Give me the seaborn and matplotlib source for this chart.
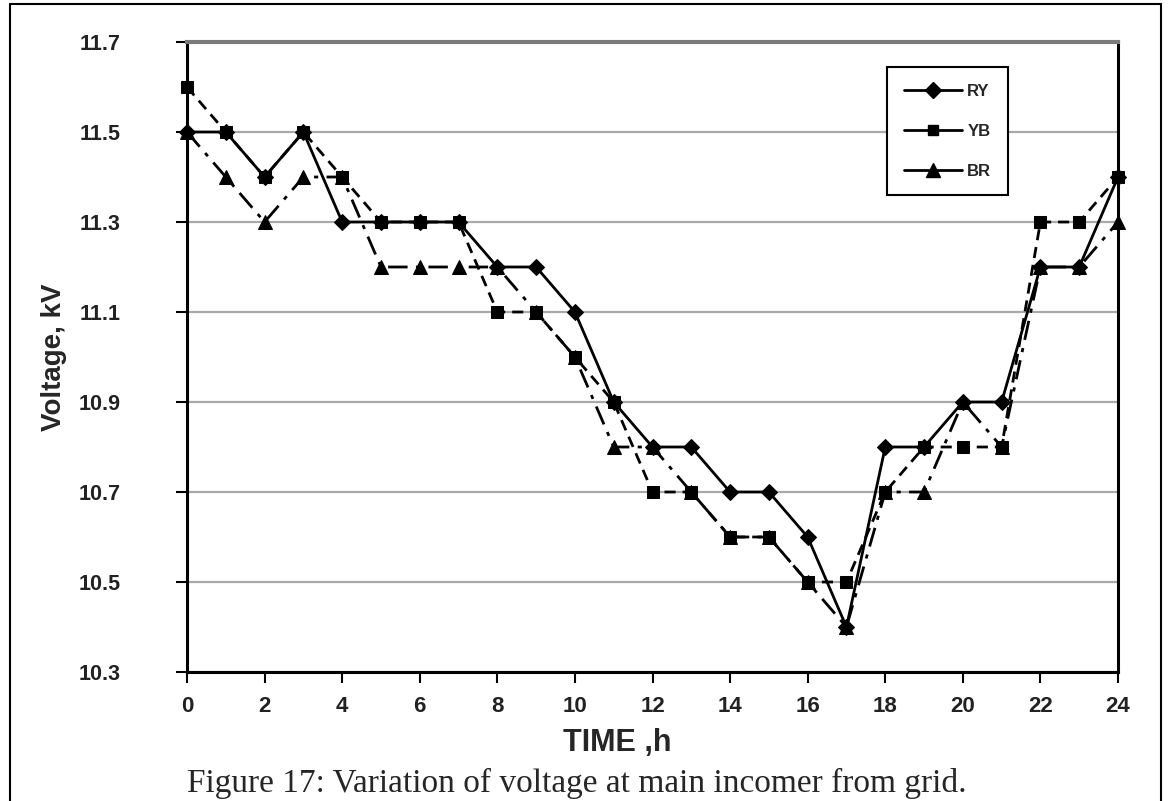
import matplotlib
matplotlib.use("Agg")
import matplotlib.pyplot as plt
import seaborn as sns
import pandas as pd
from matplotlib.lines import Line2D

# ---- data ----
hours = list(range(25))
ry = [11.5, 11.5, 11.4, 11.5, 11.3, 11.3, 11.3, 11.3, 11.2, 11.2, 11.1, 10.9, 10.8,
      10.8, 10.7, 10.7, 10.6, 10.4, 10.8, 10.8, 10.9, 10.9, 11.2, 11.2, 11.4]
yb = [11.6, 11.5, 11.4, 11.5, 11.4, 11.3, 11.3, 11.3, 11.1, 11.1, 11.0, 10.9, 10.7,
      10.7, 10.6, 10.6, 10.5, 10.5, 10.7, 10.8, 10.8, 10.8, 11.3, 11.3, 11.4]
br = [11.5, 11.4, 11.3, 11.4, 11.4, 11.2, 11.2, 11.2, 11.2, 11.1, 11.0, 10.8, 10.8,
      10.7, 10.6, 10.6, 10.5, 10.4, 10.7, 10.7, 10.9, 10.8, 11.2, 11.2, 11.3]
phases = ["RY", "YB", "BR"]
x_ticks = [0, 2, 4, 6, 8, 10, 12, 14, 16, 18, 20, 22, 24]
y_ticks = [10.3, 10.5, 10.7, 10.9, 11.1, 11.3, 11.5, 11.7]
y_tick_labels = ["10.3", "10.5", "10.7", "10.9", "11.1", "11.3", "11.5", "11.7"]
x_label = "TIME ,h"
y_label = "Voltage, kV"
caption = "Figure 17: Variation of voltage at main incomer from grid."

df = pd.DataFrame({
    "hour": hours * 3,
    "voltage": ry + yb + br,
    "phase": ["RY"] * len(hours) + ["YB"] * len(hours) + ["BR"] * len(hours),
})

sns.set_theme(style="white")
plt.rcParams['font.family'] = ['Liberation Sans', 'DejaVu Sans']

fig = plt.figure(figsize=(11.69, 8.01), dpi=100)
ax = fig.add_axes([187 / 1169, 1 - 672 / 801, (1118 - 187) / 1169, (672 - 42) / 801])

style = {
    "BR": dict(marker="^", markersize=10.5, linestyle=(0, (7, 3, 1.5, 3)), zorder=3),
    "YB": dict(marker="s", markersize=8, linestyle=(0, (4, 2.5)), zorder=4),
    "RY": dict(marker="D", markersize=8.5, linestyle="-", zorder=5),
}
for ph in ["BR", "YB", "RY"]:
    sns.lineplot(data=df[df["phase"] == ph], x="hour", y="voltage", ax=ax,
                 color="black", linewidth=2.0, markeredgecolor="black",
                 markerfacecolor="black", clip_on=False, legend=False,
                 **style[ph])

ax.set_xlim(0, 24)
ax.set_ylim(10.3, 11.7)
ax.set_xticks(x_ticks)
ax.set_yticks(y_ticks)
ax.set_yticklabels(y_tick_labels)
ax.yaxis.grid(True, color="#a9a9a9", linewidth=1.6)
ax.xaxis.grid(False)
ax.set_axisbelow(True)

for side in ["left", "bottom", "right"]:
    ax.spines[side].set_color("black")
    ax.spines[side].set_linewidth(2.2)
ax.spines["top"].set_color("#7a7a7a")
ax.spines["top"].set_linewidth(3)

ax.tick_params(axis="y", direction="out", length=8, width=1.5, color="black",
               left=True, pad=40)
ax.tick_params(axis="x", direction="out", length=8, width=1.5, color="black",
               bottom=True, pad=9)
for lab in ax.get_yticklabels():
    lab.set_fontsize(15.5)
    lab.set_fontweight("bold")
    lab.set_color("#222222")
for lab in ax.get_xticklabels():
    lab.set_fontsize(16)
    lab.set_fontweight("bold")
    lab.set_color("#222222")

ax.set_xlabel("")
ax.set_ylabel("")
fig.text(617 / 1169, 1 - 743 / 801, x_label, ha="center", va="center",
         fontsize=22, fontweight="bold")
fig.text(54 / 1169, 1 - 357 / 801, y_label, ha="center", va="center",
         rotation=90, fontsize=20, fontweight="bold")
fig.text(577 / 1169, 1 - 783 / 801, caption, ha="center", va="center",
         fontsize=24, family=["Liberation Serif", "DejaVu Serif"])

# legend
handles = []
for ph in phases:
    s = style[ph]
    handles.append(Line2D([0], [0], color="black", linewidth=2.0,
                          linestyle="-", marker=s["marker"],
                          markersize=s["markersize"] * 0.9,
                          markerfacecolor="black", markeredgecolor="black"))
leg = ax.legend(handles, phases, loc="upper right",
                bbox_to_anchor=((1008 - 187) / (1118 - 187), (672 - 67) / 630),
                frameon=True, fancybox=False, shadow=False, framealpha=1,
                edgecolor="black", handlelength=3.5, handletextpad=0.3,
                labelspacing=1.5, borderpad=1.0, borderaxespad=0,
                prop={"weight": "bold", "size": 12})
leg.get_frame().set_linewidth(1.5)

# page frame (open at bottom)
fig.add_artist(Line2D([10 / 1169, 10 / 1169], [0, 1 - 4 / 801],
                      transform=fig.transFigure, color="black", linewidth=1.5))
fig.add_artist(Line2D([1161 / 1169, 1161 / 1169], [0, 1 - 4 / 801],
                      transform=fig.transFigure, color="black", linewidth=1.5))
fig.add_artist(Line2D([10 / 1169, 1161 / 1169], [1 - 4 / 801, 1 - 4 / 801],
                      transform=fig.transFigure, color="black", linewidth=1.5))

fig.savefig("out.png", dpi=100)
